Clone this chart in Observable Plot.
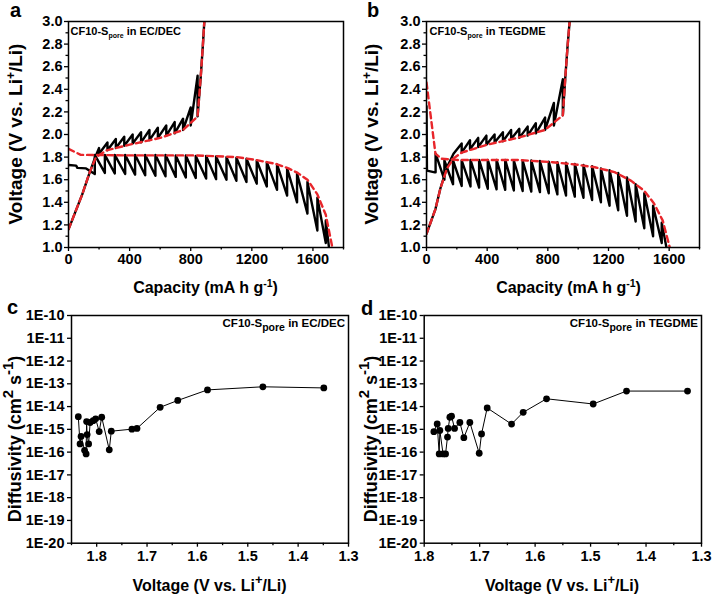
<!DOCTYPE html>
<html><head><meta charset="utf-8">
<script src="https://cdn.jsdelivr.net/npm/d3@7"></script>
<script src="https://cdn.jsdelivr.net/npm/@observablehq/plot@0.6"></script>
<style>
body{margin:0;background:#fff;}
#wrap{position:relative;width:712px;height:597px;overflow:hidden;background:#fff;}
#wrap svg{position:absolute;overflow:visible;}
</style></head><body><div id="wrap"></div>
<script>
// ---------- Panel a: CF10-Spore in EC/DEC (GITT) ----------
const aDisHeadCap = [0, 50, 58, 115];
const aDisHeadV   = [1.73, 1.725, 1.705, 1.70];
const aDisCap = [172, 238, 303, 371, 436, 502, 569, 635, 702, 768, 833, 901, 966, 1034, 1099, 1165, 1232, 1298, 1365, 1431, 1496, 1564, 1629, 1684];
const aDisLow = [1.65, 1.66, 1.655, 1.65, 1.645, 1.64, 1.635, 1.63, 1.625, 1.62, 1.615, 1.61, 1.605, 1.60, 1.59, 1.58, 1.565, 1.54, 1.51, 1.46, 1.40, 1.30, 1.15, 1.04];
const aDisTop = [1.82, 1.82, 1.82, 1.82, 1.82, 1.82, 1.82, 1.82, 1.815, 1.815, 1.81, 1.81, 1.805, 1.80, 1.795, 1.785, 1.77, 1.755, 1.735, 1.70, 1.655, 1.58, 1.44, 1.24];
const aDisTailCap = [1705];
const aDisTailV   = [1.0];
const aDisOcvCap = [0, 80, 400, 833, 1100, 1225, 1357, 1440, 1500, 1564, 1629, 1684, 1727];
const aDisOcvV   = [1.873, 1.82, 1.815, 1.815, 1.80, 1.775, 1.74, 1.70, 1.66, 1.60, 1.47, 1.29, 1.0];

const aChgHeadCap = [0, 90, 135, 175];
const aChgHeadV   = [1.16, 1.47, 1.65, 1.80];
const aChgCap   = [200, 255, 310, 365, 420, 475, 530, 585, 640, 695, 750, 800, 845];
const aChgPeak  = [1.88, 1.93, 1.96, 1.98, 2.00, 2.02, 2.04, 2.06, 2.08, 2.11, 2.14, 2.24, 2.52];
const aChgRelax = [1.83, 1.86, 1.88, 1.90, 1.92, 1.93, 1.95, 1.97, 1.99, 2.01, 2.04, 2.08, 2.16];
const aChgTailCap = [865, 880, 890];
const aChgTailV   = [2.5, 2.8, 3.02];
const aChgOcvCap = [0, 90, 140, 180, 250, 400, 600, 750, 845, 865, 880, 890];
const aChgOcvV   = [1.16, 1.47, 1.67, 1.80, 1.86, 1.91, 1.97, 2.04, 2.16, 2.5, 2.8, 3.02];

// ---------- Panel b: CF10-Spore in TEGDME (GITT) ----------
const bDisHeadCap = [0, 3, 55];
const bDisHeadV   = [2.25, 1.68, 1.665];
const bDisCap = [60, 118, 175, 232, 290, 347, 404, 462, 519, 576, 634, 691, 748, 806, 863, 920, 978, 1035, 1092, 1150, 1207, 1264, 1322, 1379, 1436, 1494, 1551];
const bDisLow = [1.665, 1.60, 1.56, 1.545, 1.54, 1.53, 1.52, 1.515, 1.51, 1.505, 1.50, 1.495, 1.49, 1.48, 1.47, 1.46, 1.45, 1.44, 1.42, 1.40, 1.37, 1.33, 1.28, 1.23, 1.17, 1.10, 1.04];
const bDisTop = [1.83, 1.77, 1.77, 1.77, 1.775, 1.775, 1.775, 1.775, 1.775, 1.77, 1.77, 1.77, 1.765, 1.76, 1.755, 1.75, 1.74, 1.73, 1.72, 1.70, 1.685, 1.66, 1.62, 1.56, 1.48, 1.37, 1.22];
const bDisTailCap = [1582];
const bDisTailV   = [1.0];
const bDisOcvCap = [0, 59, 100, 200, 600, 830, 980, 1110, 1240, 1350, 1437, 1500, 1557, 1604];
const bDisOcvV   = [2.46, 1.83, 1.785, 1.775, 1.775, 1.755, 1.735, 1.71, 1.667, 1.59, 1.50, 1.39, 1.24, 1.0];

const bChgHeadCap = [0, 59, 91, 135, 178];
const bChgHeadV   = [1.12, 1.34, 1.52, 1.71, 1.83];
const bChgCap   = [232, 287, 341, 395, 449, 504, 558, 612, 667, 721, 782, 840, 899];
const bChgPeak  = [1.92, 1.95, 1.97, 1.99, 2.00, 2.02, 2.04, 2.05, 2.07, 2.10, 2.15, 2.28, 2.49];
const bChgRelax = [1.84, 1.87, 1.89, 1.91, 1.93, 1.94, 1.96, 1.97, 1.99, 2.01, 2.04, 2.08, 2.17];
const bChgTailCap = [915, 930, 945];
const bChgTailV   = [2.5, 2.78, 3.02];
const bChgOcvCap = [0, 59, 91, 135, 180, 232, 400, 600, 780, 899, 915, 930, 945];
const bChgOcvV   = [1.12, 1.34, 1.52, 1.70, 1.79, 1.84, 1.91, 1.97, 2.04, 2.17, 2.5, 2.78, 3.02];

// ---------- Panel c / d: diffusivity ----------
const cVolt = [1.8365, 1.833, 1.831, 1.824, 1.821, 1.820, 1.819, 1.816, 1.813, 1.807, 1.802, 1.795, 1.790, 1.775, 1.771, 1.730, 1.720, 1.674, 1.639, 1.580, 1.470, 1.349];
const cDiff = [3.6e-15, 2.3e-16, 4.9e-16, 1.2e-16, 8.3e-17, 2.2e-15, 5.9e-16, 2.3e-16, 2.0e-15, 2.4e-15, 2.9e-15, 8.0e-16, 3.4e-15, 1.26e-16, 8.3e-16, 1.02e-15, 1.1e-15, 9.3e-15, 1.86e-14, 5.4e-14, 7.4e-14, 6.6e-14];
const dVolt = [1.7826, 1.7766, 1.773, 1.7718, 1.766, 1.7615, 1.758, 1.7567, 1.7537, 1.7507, 1.7453, 1.7357, 1.7285, 1.7177, 1.7008, 1.6966, 1.6864, 1.6425, 1.6215, 1.5794, 1.4953, 1.4352, 1.3252];
const dDiff = [7.9e-16, 1.73e-15, 8.3e-17, 8.9e-16, 8.3e-17, 8.3e-17, 4.6e-16, 1.1e-15, 3.4e-15, 3.8e-15, 1.1e-15, 2.0e-15, 4.3e-16, 2.0e-15, 8.9e-17, 6.3e-16, 8.7e-15, 1.7e-15, 5.6e-15, 2.2e-14, 1.3e-14, 4.8e-14, 4.8e-14];

// ---------- tick values ----------
const capTicks = [0, 400, 800, 1200, 1600];
const capMinor = [200, 600, 1000, 1400, 1800];
const voltTicks = [1.0, 1.2, 1.4, 1.6, 1.8, 2.0, 2.2, 2.4, 2.6, 2.8, 3.0];
const voltMinor = [1.1, 1.3, 1.5, 1.7, 1.9, 2.1, 2.3, 2.5, 2.7, 2.9];
const diffExp = [-10, -11, -12, -13, -14, -15, -16, -17, -18, -19, -20];
const dvTicks = [1.8, 1.7, 1.6, 1.5, 1.4, 1.3];
const dvMinor = [1.85, 1.75, 1.65, 1.55, 1.45, 1.35];

// ---------- helpers ----------
const FONT = '"Liberation Sans", Arial, Helvetica, sans-serif';
const zip = (xs, ys) => xs.map((x, i) => ({cap: x, v: ys[i]}));
function discharge(hc, hv, cap, low, top, tc, tv) {
  const pts = zip(hc, hv);
  cap.forEach((c, i) => { pts.push({cap: c, v: low[i]}); pts.push({cap: c, v: top[i]}); });
  return pts.concat(zip(tc, tv));
}
function charge(hc, hv, cap, peak, relax, tc, tv) {
  const pts = zip(hc, hv);
  cap.forEach((c, i) => { pts.push({cap: c, v: peak[i]}); pts.push({cap: c, v: relax[i]}); });
  return pts.concat(zip(tc, tv));
}
function rich(svg, {x, y, anchor = "start", rotate = 0, size, parts}) {
  const t = d3.select(svg).append("text")
    .attr("transform", `translate(${x},${y}) rotate(${rotate})`)
    .attr("text-anchor", anchor)
    .attr("font-family", FONT).attr("font-weight", "bold")
    .attr("font-size", size).attr("fill", "black");
  let cur = 0;
  for (const [str, shift = 0, sz = size] of parts) {
    t.append("tspan").attr("dy", shift - cur).attr("font-size", sz).text(str);
    cur = shift;
  }
}
const baseStyle = {fontFamily: FONT, fontSize: "14.5px", fontWeight: "bold", color: "black", background: "transparent", overflow: "visible"};

function gitt({dis, disOcv, chg, chgOcv, mL, mR}) {
  return Plot.plot({
    width: 356, height: 300,
    marginLeft: mL, marginRight: mR, marginTop: 21, marginBottom: 53,
    style: baseStyle,
    x: {domain: [0, 1800], axis: null},
    y: {domain: [1, 3], axis: null},
    marks: [
      Plot.line(dis, {x: "cap", y: "v", stroke: "black", strokeWidth: 2.4, clip: true}),
      Plot.line(chg, {x: "cap", y: "v", stroke: "black", strokeWidth: 2.4, clip: true}),
      Plot.line(disOcv, {x: "cap", y: "v", stroke: "#e8262b", strokeWidth: 2.4, strokeDasharray: "6,4", clip: true}),
      Plot.line(chgOcv, {x: "cap", y: "v", stroke: "#e8262b", strokeWidth: 2.4, strokeDasharray: "6,4", clip: true}),
      Plot.axisX(capTicks, {label: null, tickSize: 4, tickPadding: 2, strokeWidth: 1.3, tickFormat: d => String(d)}),
      Plot.axisX(capMinor, {label: null, tickSize: 2.5, strokeWidth: 1.3, tickFormat: () => ""}),
      Plot.axisY(voltTicks, {label: null, tickSize: 4, tickPadding: 2, strokeWidth: 1.3, tickFormat: d => d.toFixed(1)}),
      Plot.axisY(voltMinor, {label: null, tickSize: 2.5, strokeWidth: 1.3, tickFormat: () => ""}),
      Plot.frame({stroke: "black", strokeWidth: 1.5})
    ]
  });
}
function diffPanel({volt, diff, xDomain, mL, mR}) {
  const data = volt.map((v, i) => ({v, d: diff[i]}));
  return Plot.plot({
    width: 356, height: 297,
    marginLeft: mL, marginRight: mR, marginTop: 15, marginBottom: 54.3,
    style: baseStyle,
    x: {domain: xDomain, axis: null},
    y: {type: "log", domain: [1e-20, 1e-10], axis: null},
    marks: [
      Plot.line(data, {x: "v", y: "d", stroke: "black", strokeWidth: 1}),
      Plot.dot(data, {x: "v", y: "d", r: 3.4, fill: "black", stroke: "none"}),
      Plot.axisX(dvTicks, {label: null, tickSize: 4, tickPadding: 4, strokeWidth: 1.3, tickFormat: d => d.toFixed(1)}),
      Plot.axisX(dvMinor.filter(t => t <= xDomain[0] + 1e-9), {label: null, tickSize: 2.5, strokeWidth: 1.3, tickFormat: () => ""}),
      Plot.axisY(diffExp.map(e => Math.pow(10, e)), {label: null, tickSize: 4, tickPadding: 3, strokeWidth: 1.3, tickFormat: d => "1E" + Math.round(Math.log10(d))}),
      Plot.frame({stroke: "black", strokeWidth: 1.5})
    ]
  });
}

const wrap = document.getElementById("wrap");
function place(svg, left, top) { svg.style.left = left + "px"; svg.style.top = top + "px"; wrap.appendChild(svg); return svg; }

// a
const A = place(gitt({
  dis: discharge(aDisHeadCap, aDisHeadV, aDisCap, aDisLow, aDisTop, aDisTailCap, aDisTailV),
  disOcv: zip(aDisOcvCap, aDisOcvV),
  chg: charge(aChgHeadCap, aChgHeadV, aChgCap, aChgPeak, aChgRelax, aChgTailCap, aChgTailV),
  chgOcv: zip(aChgOcvCap, aChgOcvV), mL: 68, mR: 13}), 0, 0);
// b
const B = place(gitt({
  dis: discharge(bDisHeadCap, bDisHeadV, bDisCap, bDisLow, bDisTop, bDisTailCap, bDisTailV),
  disOcv: zip(bDisOcvCap, bDisOcvV),
  chg: charge(bChgHeadCap, bChgHeadV, bChgCap, bChgPeak, bChgRelax, bChgTailCap, bChgTailV),
  chgOcv: zip(bChgOcvCap, bChgOcvV), mL: 70, mR: 13}), 356, 0);
// c
const C = place(diffPanel({volt: cVolt, diff: cDiff, xDomain: [1.85, 1.3], mL: 71, mR: 8}), 0, 300);
// d
const D = place(diffPanel({volt: dVolt, diff: dDiff, xDomain: [1.8, 1.3], mL: 67.7, mR: 11}), 356, 300);

// panel letters
rich(A, {x: 10, y: 17, size: 20, parts: [["a"]]});
rich(B, {x: 11, y: 17, size: 20, parts: [["b"]]});
rich(C, {x: 7, y: 14, size: 20, parts: [["c"]]});
rich(D, {x: 5, y: 15, size: 20, parts: [["d"]]});

// axis titles a / b
for (const [S, cx] of [[A, 205.5], [B, 212.5]]) {
  rich(S, {x: cx, y: 293, anchor: "middle", size: 16,
    parts: [["Capacity (mA h g"], ["-1", -6, 10.5], [")", 0, 16]]});
  rich(S, {x: 21.5, y: 134, anchor: "middle", rotate: -90, size: 19,
    parts: [["Voltage (V vs. Li"], ["+", -7, 12], ["/Li)", 0, 19]]});
}
rich(A, {x: 70.5, y: 35, size: 11, parts: [["CF10-S"], ["pore", 2.5, 7], [" in EC/DEC", 0, 11]]});
rich(B, {x: 73.5, y: 35, size: 11, parts: [["CF10-S"], ["pore", 2.5, 7], [" in TEGDME", 0, 11]]});

// axis titles c / d
for (const [S, cx] of [[C, 209.5], [D, 206]]) {
  rich(S, {x: cx, y: 290.5, anchor: "middle", size: 16,
    parts: [["Voltage (V vs. Li"], ["+", -7, 13], ["/Li)", 0, 16]]});
  rich(S, {x: 21, y: 139, anchor: "middle", rotate: -90, size: 18,
    parts: [["Diffusivity (cm"], ["2", -8, 15], [" s", 0, 18], ["-1", -8, 15], [")", 0, 18]]});
}
rich(C, {x: 345, y: 27, anchor: "end", size: 11.5, parts: [["CF10-S"], ["pore", 3.5, 10.5], [" in EC/DEC", 0, 11.5]]});
rich(D, {x: 342, y: 27, anchor: "end", size: 11.5, parts: [["CF10-S"], ["pore", 3.5, 10.5], [" in TEGDME", 0, 11.5]]});
</script></body></html>
